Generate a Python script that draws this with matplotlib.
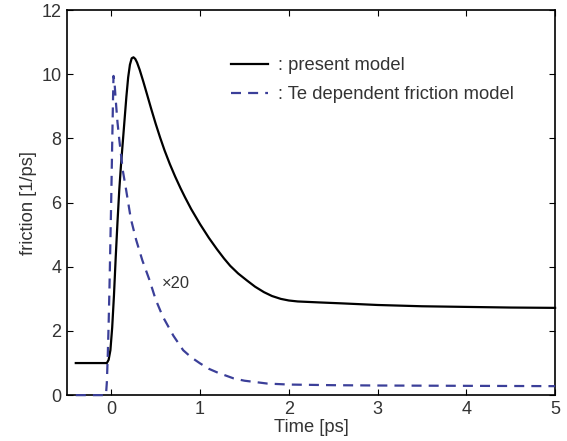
import matplotlib.pyplot as plt

plt.rcParams["font.family"] = ["Liberation Sans", "DejaVu Sans"]

# present model (black solid)
t_present = [-0.4, -0.05, -0.03, -0.01, 0.01, 0.03, 0.05, 0.07, 0.09, 0.11, 0.13,
             0.15, 0.17, 0.19, 0.21, 0.23, 0.25, 0.27, 0.29, 0.32, 0.36, 0.40,
             0.45, 0.50, 0.55, 0.60, 0.66, 0.72, 0.78, 0.83, 0.90, 1.0, 1.1,
             1.19, 1.27, 1.34, 1.43, 1.53, 1.62, 1.72, 1.81, 1.91, 2.0, 2.1,
             2.34, 2.6, 3.0, 3.5, 4.0, 4.5, 5.0]
f_present = [1.0, 1.0, 1.1, 1.4, 2.1, 3.1, 4.3, 5.4, 6.4, 7.2, 7.9,
             8.6, 9.3, 9.9, 10.3, 10.5, 10.53, 10.48, 10.37, 10.14, 9.78, 9.4,
             8.92, 8.46, 8.03, 7.63, 7.2, 6.81, 6.45, 6.17, 5.8, 5.33, 4.9,
             4.55, 4.26, 4.03, 3.79, 3.57, 3.38, 3.21, 3.09, 3.0, 2.95, 2.92,
             2.89, 2.86, 2.81, 2.77, 2.75, 2.73, 2.72]

# Te dependent friction model (x20, blue dashed)
t_te = [-0.4, -0.06, -0.05, -0.04, -0.03, -0.02, -0.01, 0.0, 0.01, 0.02, 0.025,
        0.035, 0.05, 0.07, 0.09, 0.13, 0.167, 0.22, 0.28, 0.35, 0.43, 0.5,
        0.58, 0.7, 0.81, 0.9, 1.0, 1.1, 1.2, 1.38, 1.5, 1.76, 2.0, 2.5, 3.0,
        4.0, 5.0]
f_te = [0, 0, 0.4, 1.2, 2.2, 3.4, 4.8, 6.2, 7.8, 9.3, 9.95,
        9.8, 9.2, 8.5, 7.97, 7.0, 6.4, 5.5, 4.84, 4.2, 3.59, 2.98,
        2.45, 1.85, 1.4, 1.18, 0.99, 0.82, 0.7, 0.52, 0.45, 0.36, 0.33, 0.31, 0.3,
        0.29, 0.28]

xticks = [0, 1, 2, 3, 4, 5]
yticks = [0, 2, 4, 6, 8, 10, 12]

fig = plt.figure(figsize=(5.67, 4.41), dpi=100)
ax = fig.add_axes([0.118, 0.104, 0.861, 0.873])

ax.plot(t_present, f_present, color="black", lw=1.6, label=": present model",
        zorder=5, clip_on=False)
ax.plot(t_te, f_te, color="#3b3f99", lw=1.6, linestyle=(0, (4.5, 3.2)),
        label=": Te dependent friction model", zorder=5, clip_on=False)

ax.text(0.57, 3.47, "×20", fontsize=11.8, color="#333333", va="center")

ax.set_xlim(-0.5, 5)
ax.set_ylim(0, 12)
ax.set_xticks(xticks)
ax.set_yticks(yticks)
ax.tick_params(direction="in", length=4, width=0.8, top=True, right=True,
               labelsize=13, labelcolor="#333333", pad=4)
for s in ax.spines.values():
    s.set_linewidth(1.2)

ax.set_xlabel("Time [ps]", fontsize=13.2, color="#333333", labelpad=1)
ax.set_ylabel("friction [1/ps]", fontsize=13.2, color="#333333", labelpad=3)

ax.legend(loc="upper left", bbox_to_anchor=(0.317, 0.902), frameon=False,
          borderpad=0, handlelength=2.05, handletextpad=0.5, labelspacing=0.65,
          fontsize=13.2, labelcolor="#333333")

fig.savefig("out.png", dpi=100)
